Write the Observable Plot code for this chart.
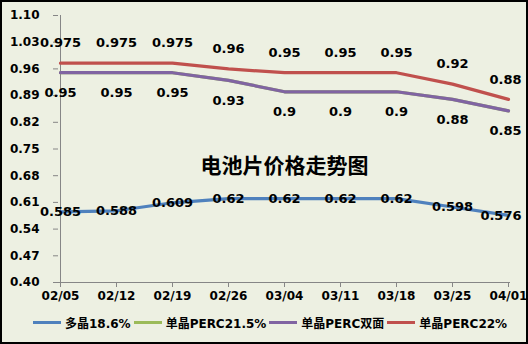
<!DOCTYPE html>
<html>
<head>
<meta charset="utf-8">
<script src="https://cdn.jsdelivr.net/npm/d3@7"></script>
<script src="https://cdn.jsdelivr.net/npm/@observablehq/plot@0.6"></script>
<style>
  html, body { margin: 0; padding: 0; background: #fff; }
  #chart {
    position: relative; width: 528px; height: 344px; box-sizing: border-box;
    border: 2px solid #000; background: #edf0e2; overflow: hidden;
    font-family: "DejaVu Sans", "Noto Sans CJK SC", sans-serif; font-weight: bold;
  }
  #chart svg { position: absolute; left: 0; top: 0; }
  #legend {
    position: absolute; left: 31px; top: 310px; height: 20px;
    display: flex; align-items: center; font-size: 12px; color: #000; white-space: nowrap;
  }
  .item { display: flex; align-items: center; margin-right: 3px; }
  .sw { width: 28px; height: 3px; margin-right: 4px; }
</style>
</head>
<body>
<div id="chart"><div id="legend"></div></div>
<script>
const titleText = "电池片价格走势图";
const dates = ["02/05","02/12","02/19","02/26","03/04","03/11","03/18","03/25","04/01"];
const yTicks = [0.40,0.47,0.54,0.61,0.68,0.75,0.82,0.89,0.96,1.03,1.10];
const seriesNames = ["多晶18.6%","单晶PERC21.5%","单晶PERC双面","单晶PERC22%"];
const seriesColors = ["#4f81bd","#9bbb59","#8064a2","#c0504d"];
const multi186   = [0.585,0.588,0.609,0.62,0.62,0.62,0.62,0.598,0.576];
const perc215    = [0.95,0.95,0.95,0.93,0.9,0.9,0.9,0.88,0.85];
const percDouble = [0.95,0.95,0.95,0.93,0.9,0.9,0.9,0.88,0.85];
const perc22     = [0.975,0.975,0.975,0.96,0.95,0.95,0.95,0.92,0.88];
const seriesValues = [multi186, perc215, percDouble, perc22];
// label placement per series: offset from line (null = hidden)
const labelDy = [0, null, 20, -20];

const rowsFor = (i) => dates.map((d, j) => ({date: d, value: seriesValues[i][j], last: j === dates.length - 1}));
const fmt = v => String(v);

const marks = [
  Plot.ruleY([0.40], {stroke: "#868686", strokeWidth: 1}),
  Plot.ruleX([dates[0]], {stroke: "#868686", strokeWidth: 1}),
  Plot.axisX({tickSize: 5, tickPadding: 4, stroke: "#868686", fill: "#000", fontSize: 12, fontWeight: "bold", label: null}),
  Plot.axisY({ticks: yTicks, tickFormat: d3.format(".2f"), tickSize: 5, tickPadding: 14, stroke: "#868686", fill: "#000", fontSize: 12, fontWeight: "bold", label: null}),
  Plot.text([titleText], {frameAnchor: "top", dy: 143, fontSize: 21, fontWeight: "bold", fill: "#000"})
];
seriesValues.forEach((vals, i) => {
  marks.push(Plot.lineY(rowsFor(i), {x: "date", y: "value", stroke: seriesColors[i], strokeWidth: 3.2}));
});
seriesValues.forEach((vals, i) => {
  if (labelDy[i] === null) return;
  const rows = rowsFor(i);
  marks.push(Plot.text(rows.filter(r => !r.last), {x: "date", y: "value", text: r => fmt(r.value), dy: labelDy[i], fontSize: 13, fontWeight: "bold", fill: "#000"}));
  marks.push(Plot.text(rows.filter(r => r.last), {x: "date", y: "value", text: r => fmt(r.value), dy: labelDy[i], dx: 13, textAnchor: "end", fontSize: 13, fontWeight: "bold", fill: "#000"}));
});

const plot = Plot.plot({
  width: 524, height: 300,
  marginLeft: 56, marginRight: 16, marginTop: 13, marginBottom: 20,
  style: {background: "transparent", fontFamily: "'DejaVu Sans', 'Noto Sans CJK SC', sans-serif", fontWeight: "bold", color: "#000", overflow: "visible"},
  x: {type: "point", domain: dates, padding: 0, label: null},
  y: {domain: [0.40, 1.10], label: null},
  marks
});
const chart = document.getElementById("chart");
chart.insertBefore(plot, chart.firstChild);

const legend = document.getElementById("legend");
seriesNames.forEach((n, i) => {
  const it = document.createElement("div");
  it.className = "item";
  const sw = document.createElement("div");
  sw.className = "sw";
  sw.style.background = seriesColors[i];
  const t = document.createElement("span");
  t.textContent = n;
  it.appendChild(sw); it.appendChild(t);
  legend.appendChild(it);
});
</script>
</body>
</html>
